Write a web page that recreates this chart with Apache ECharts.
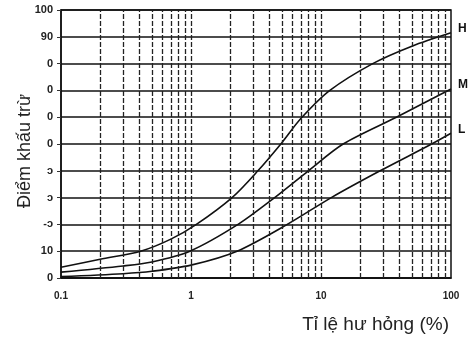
<!DOCTYPE html>
<html>
<head>
<meta charset="utf-8">
<script src="https://cdn.jsdelivr.net/npm/echarts@6/dist/echarts.min.js"></script>
<style>html,body{margin:0;padding:0;background:#fff}#c{width:474px;height:343px}</style>
</head>
<body>
<div id="c"></div>
<script>
// Data
var seriesNames = ['H', 'M', 'L'];
var hX = [0.1, 0.2, 0.41, 0.7, 1.1, 2.07, 3.27, 5, 7, 11.7, 25, 50, 100];
var hY = [4, 7, 10, 14.5, 20, 30, 40, 50.5, 59.5, 70, 80, 86.5, 91.5];
var mX = [0.1, 0.3, 0.5, 0.98, 2.3, 4.4, 8, 14.8, 38, 100];
var mY = [2.2, 4.5, 6, 10, 20, 30, 40, 50, 60, 70.5];
var lX = [0.1, 0.3, 0.5, 1, 2.26, 5.5, 12, 28.5, 71, 100];
var lY = [0.5, 1.6, 2.5, 4.8, 10, 20, 30, 40, 50, 54];
var yTickLabels = ['0', '10', '-\u0254', '\u0254', '\u0254', '0', '0', '0', '0', '90', '100'];
var xTickLabels = {'0.1': '0.1', '1': '1', '10': '10', '100': '100'};
var gridXValues = [0.2,0.3,0.4,0.5,0.6,0.7,0.8,0.9,1,2,3,4,5,6,7,8,9,10,20,30,40,50,60,70,80,90];
var xTitle = 'Tỉ lệ hư hỏng (%)';
var yTitle = 'Điểm khấu trừ';

function pairs(xs, ys) { return xs.map(function (x, i) { return [x, ys[i]]; }); }

var chart = echarts.init(document.getElementById('c'), null, {renderer: 'canvas'});
var font = '"Liberation Sans", Arial, sans-serif';
var lineSeries = [[hX, hY], [mX, mY], [lX, lY]].map(function (d, i) {
  return {
    name: seriesNames[i], type: 'line', data: pairs(d[0], d[1]),
    smooth: 0.3, symbol: 'none', silent: true,
    lineStyle: {color: '#111', width: 1.6},
    endLabel: {show: true, formatter: '{a}', color: '#111', fontFamily: font,
      fontWeight: 'bold', fontSize: 12, distance: 7, offset: [0, -4]}
  };
});
lineSeries[0].markLine = {
  silent: true, symbol: 'none', animation: false, label: {show: false},
  lineStyle: {color: '#222', width: 1.3, type: [5, 2]},
  data: gridXValues.map(function (v) { return {xAxis: v}; })
};

chart.setOption({
  animation: false,
  backgroundColor: '#fff',
  grid: {left: 61, top: 10, width: 390, height: 268, containLabel: false, outerBoundsMode: 'none',
    show: true, borderColor: '#111', borderWidth: 1.5, backgroundColor: 'transparent'},
  xAxis: {
    type: 'log', logBase: 10, min: 0.1, max: 100,
    name: xTitle, nameLocation: 'end', nameGap: 0, nameMoveOverlap: false,
    nameTextStyle: {fontFamily: font, fontSize: 19, color: '#222', align: 'right', verticalAlign: 'top', padding: [37, 2, 0, 0]},
    axisLine: {show: true, lineStyle: {color: '#111', width: 1.5}},
    axisTick: {show: false},
    splitLine: {show: false},
    axisLabel: {fontFamily: font, fontSize: 10, fontWeight: 'bold', color: '#222', margin: 13,
      formatter: function (v) { var k = String(+v.toPrecision(3)); return xTickLabels[k] !== undefined ? xTickLabels[k] : ''; }}
  },
  yAxis: {
    type: 'value', min: 0, max: 100, interval: 10,
    name: yTitle, nameLocation: 'middle', nameGap: 27, nameRotate: 90, nameMoveOverlap: false,
    nameTextStyle: {fontFamily: font, fontSize: 18, color: '#222', padding: [0, 14, 0, 0]},
    axisLine: {show: true, lineStyle: {color: '#111', width: 1.5}},
    axisTick: {show: true, length: 4, lineStyle: {color: '#333', width: 1}},
    splitLine: {show: true, lineStyle: {color: '#111', width: 1.6}},
    axisLabel: {fontFamily: font, fontSize: 11, fontWeight: 'bold', color: '#222', margin: 8,
      formatter: function (v) { return yTickLabels[Math.round(v / 10)]; }}
  },
  series: lineSeries
});
</script>
</body>
</html>
